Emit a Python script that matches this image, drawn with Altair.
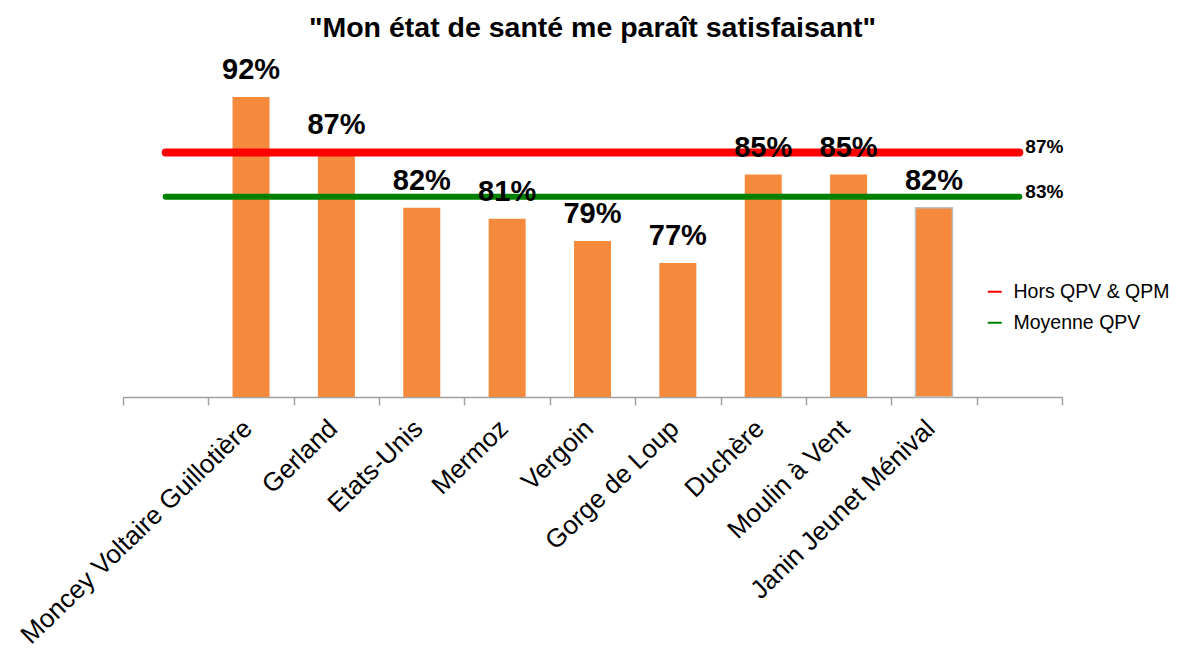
import altair as alt
import pandas as pd

categories = ["Moncey Voltaire Guillotière", "Gerland", "Etats-Unis", "Mermoz", "Vergoin",
              "Gorge de Loup", "Duchère", "Moulin à Vent", "Janin Jeunet Ménival"]
values = [92, 87, 82, 81, 79, 77, 85, 85, 82]
ref_names = ["Hors QPV & QPM", "Moyenne QPV"]
ref_values = [87, 83]
title_text = '"Mon état de santé me paraît satisfaisant"'

LEFT_PAD = " "
RIGHT_PAD = "  "
domain = [LEFT_PAD] + categories + [RIGHT_PAD]
Y_MIN, Y_MAX = 64.9, 95.35

bars_df = pd.DataFrame({"cat": categories, "value": values,
                        "label": [f"{v}%" for v in values]})
ref_df = pd.DataFrame({"name": ref_names, "value": ref_values,
                       "start": [LEFT_PAD] * 2, "end": [RIGHT_PAD] * 2,
                       "label": [f"{v}%" for v in ref_values]})

FONT = "Liberation Sans"
ORANGE = "#F58A3C"

xscale = alt.Scale(domain=domain, paddingInner=0, paddingOuter=0)
yscale = alt.Scale(domain=[Y_MIN, Y_MAX], nice=False, zero=False)

x_axis = alt.Axis(title=None, labelAngle=-44, labelAlign="right", labelBaseline="alphabetic",
                  labelFont=FONT, labelFontSize=26, labelColor="#000000",
                  labelPadding=25, labelOffset=2, labelLimit=0, tickSize=8,
                  tickColor="#A0A0A0", tickWidth=1.5, domainColor="#A0A0A0",
                  domainWidth=1.5, tickBand="extent", labelOverlap=False, grid=False)

bars = alt.Chart(bars_df).mark_bar(width=37, color=ORANGE).encode(
    x=alt.X("cat:N", scale=xscale, axis=x_axis, sort=domain),
    y=alt.Y("value:Q", scale=yscale, axis=None),
    y2=alt.datum(Y_MIN),
    stroke=alt.condition(alt.datum.cat == "Janin Jeunet Ménival",
                         alt.value("#BDBDBD"), alt.value(None)),
    strokeWidth=alt.condition(alt.datum.cat == "Janin Jeunet Ménival",
                              alt.value(1.5), alt.value(0)),
)

bar_labels = alt.Chart(bars_df).mark_text(
    font=FONT, fontSize=29, fontWeight="bold", color="#000000",
    baseline="alphabetic", dy=-18
).encode(
    x=alt.X("cat:N", scale=xscale, sort=domain),
    y=alt.Y("value:Q", scale=yscale),
    text="label:N",
)

rules = alt.Chart(ref_df).mark_rule(strokeCap="round").encode(
    x=alt.X("start:N", scale=xscale, sort=domain),
    x2="end:N",
    y=alt.Y("value:Q", scale=yscale),
    color=alt.Color("name:N",
                    scale=alt.Scale(domain=ref_names, range=["#FF0000", "#008000"]),
                    legend=alt.Legend(title=None, orient="none", legendX=862, legendY=222,
                                      symbolType="stroke", symbolSize=196,
                                      symbolStrokeWidth=2, labelFont=FONT,
                                      labelFontSize=19.5, labelColor="#000000",
                                      labelOffset=9, rowPadding=10, labelLimit=0)),
    strokeWidth=alt.condition(alt.datum.name == "Hors QPV & QPM",
                              alt.value(8), alt.value(6)),
)

rule_labels = alt.Chart(ref_df).mark_text(
    font=FONT, fontSize=19, fontWeight="bold", color="#000000",
    align="left", baseline="alphabetic", dx=6, dy=1
).encode(
    x=alt.X("end:N", scale=xscale, sort=domain),
    y=alt.Y("value:Q", scale=yscale),
    text="label:N",
)

chart = alt.layer(bars, rules, bar_labels, rule_labels).properties(
    width=939, height=337,
    title=alt.TitleParams(title_text, font=FONT, fontSize=28.5, fontWeight="bold",
                          color="#000000", anchor="middle", offset=14),
    autosize=alt.AutoSizeParams(type="none"),
    padding={"left": 115, "top": 52, "right": 111, "bottom": 257},
).configure_view(stroke=None)

chart.save("out.html", embed_options={"renderer": "svg", "actions": False})
